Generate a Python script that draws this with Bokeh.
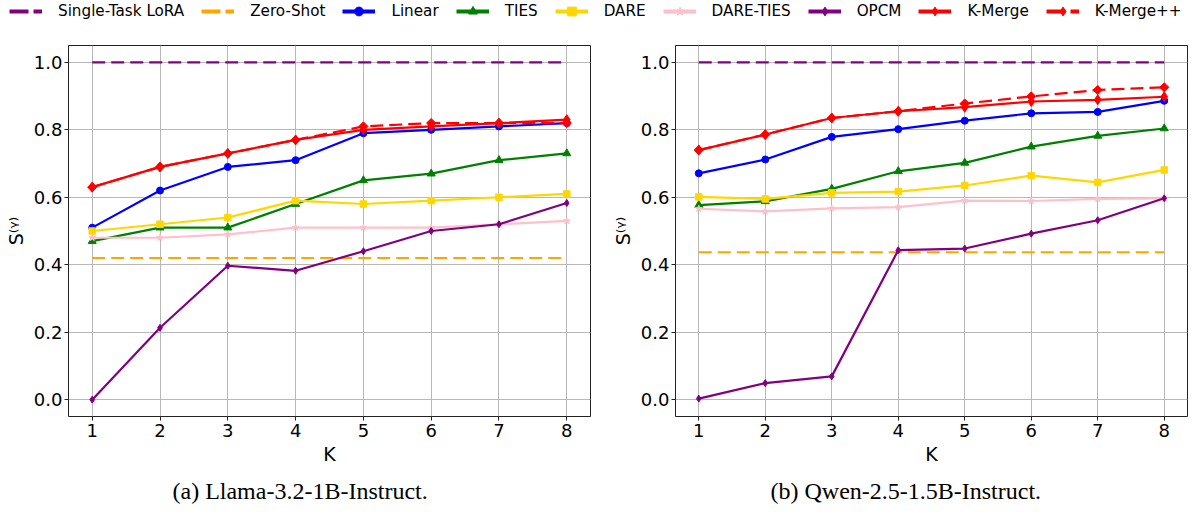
import math
from bokeh.plotting import figure
from bokeh.models import Range1d, FixedTicker, PrintfTickFormatter, Legend, LegendItem, Title
from bokeh.layouts import column, row
from bokeh.embed import file_html
from bokeh.resources import INLINE

# ---------------- data ----------------
K = [1, 2, 3, 4, 5, 6, 7, 8]
x_ticks = [1, 2, 3, 4, 5, 6, 7, 8]
y_ticks = [0.0, 0.2, 0.4, 0.6, 0.8, 1.0]

series_names = ["Single-Task LoRA", "Zero-Shot", "Linear", "TIES", "DARE",
                "DARE-TIES", "OPCM", "K-Merge", "K-Merge++"]

# (a) Llama-3.2-1B-Instruct
llama_single = [1.00, 1.00, 1.00, 1.00, 1.00, 1.00, 1.00, 1.00]
llama_zero = [0.42, 0.42, 0.42, 0.42, 0.42, 0.42, 0.42, 0.42]
llama_linear = [0.51, 0.62, 0.69, 0.71, 0.79, 0.80, 0.81, 0.82]
llama_ties = [0.47, 0.51, 0.51, 0.58, 0.65, 0.67, 0.71, 0.73]
llama_dare = [0.50, 0.52, 0.54, 0.59, 0.58, 0.59, 0.60, 0.61]
llama_dare_ties = [0.48, 0.48, 0.49, 0.51, 0.51, 0.51, 0.52, 0.53]
llama_opcm = [0.00, 0.213, 0.397, 0.382, 0.44, 0.50, 0.52, 0.583]
llama_kmerge = [0.63, 0.69, 0.73, 0.77, 0.80, 0.81, 0.82, 0.83]
llama_kmergepp = [0.63, 0.69, 0.73, 0.77, 0.81, 0.82, 0.82, 0.82]

# (b) Qwen-2.5-1.5B-Instruct
qwen_single = [1.00, 1.00, 1.00, 1.00, 1.00, 1.00, 1.00, 1.00]
qwen_zero = [0.437, 0.437, 0.437, 0.437, 0.437, 0.437, 0.437, 0.437]
qwen_linear = [0.671, 0.712, 0.779, 0.802, 0.827, 0.849, 0.853, 0.886]
qwen_ties = [0.577, 0.588, 0.625, 0.677, 0.702, 0.750, 0.782, 0.804]
qwen_dare = [0.601, 0.595, 0.613, 0.617, 0.635, 0.664, 0.644, 0.681]
qwen_dare_ties = [0.566, 0.558, 0.567, 0.571, 0.590, 0.589, 0.595, 0.597]
qwen_opcm = [0.003, 0.049, 0.069, 0.443, 0.448, 0.492, 0.532, 0.597]
qwen_kmerge = [0.740, 0.786, 0.835, 0.855, 0.867, 0.884, 0.889, 0.898]
qwen_kmergepp = [0.740, 0.786, 0.835, 0.855, 0.878, 0.899, 0.918, 0.926]

captions = ["(a) Llama-3.2-1B-Instruct.", "(b) Qwen-2.5-1.5B-Instruct."]

# ---------------- styles ----------------
STYLE = {
    "Single-Task LoRA": dict(color="#800080", dash="13 6", marker=None, size=0, angle=0, leg_marker=None),
    "Zero-Shot": dict(color="#FFA500", dash="13 6", marker=None, size=0, angle=0, leg_marker=None),
    "Linear": dict(color="#0000FF", dash="solid", marker="circle", size=7, angle=0, leg_marker="circle"),
    "TIES": dict(color="#008000", dash="solid", marker="triangle", size=8, angle=0, leg_marker="triangle"),
    "DARE": dict(color="#FFD700", dash="solid", marker="square", size=6.5, angle=0, leg_marker="square"),
    "DARE-TIES": dict(color="#FFC0CB", dash="solid", marker="star", size=7, angle=0, leg_marker="star"),
    "OPCM": dict(color="#800080", dash="solid", marker="diamond", size=7, angle=0, leg_marker="diamond"),
    "K-Merge": dict(color="#FF0000", dash="solid", marker="diamond", size=10, angle=0, leg_marker="diamond"),
    "K-Merge++": dict(color="#FF0000", dash="13 6", marker="square", size=6.5, angle=math.pi / 4, leg_marker="diamond"),
}

FONT = "DejaVu Sans"
LEG_H = 22
PLOT_H = 493


def make_plot(width, bl, br, values, caption, cap_offset):
    p = figure(width=width, height=PLOT_H,
               x_range=Range1d(0.65, 8.35), y_range=Range1d(-0.05, 1.05),
               output_backend="svg", toolbar_location=None,
               min_border_left=bl, min_border_right=br,
               min_border_top=23, min_border_bottom=99)
    p.outline_line_color = "#222222"
    p.outline_line_width = 1
    p.background_fill_color = "white"
    p.border_fill_color = "white"

    p.xaxis.ticker = FixedTicker(ticks=x_ticks)
    p.yaxis.ticker = FixedTicker(ticks=y_ticks)
    p.yaxis.formatter = PrintfTickFormatter(format="%.1f")
    for ax in (p.xaxis, p.yaxis):
        ax.axis_line_color = None
        ax.major_tick_line_color = "#222222"
        ax.major_tick_in = 0
        ax.major_tick_out = 4
        ax.minor_tick_line_color = None
        ax.major_label_text_font = FONT
        ax.major_label_text_font_size = "18px"
        ax.major_label_text_color = "#000000"
        ax.axis_label_text_font = FONT
        ax.axis_label_text_font_size = "19px"
        ax.axis_label_text_font_style = "normal"
        ax.axis_label_text_color = "#000000"
    p.xaxis.axis_label = "K"
    p.yaxis.axis_label = "S⁽ᵞ⁾"
    p.xaxis.major_label_standoff = 3
    p.xaxis.axis_label_standoff = 3
    p.yaxis.major_label_standoff = 2
    p.yaxis.axis_label_standoff = 4

    p.xgrid.grid_line_color = "#b8b8b8"
    p.ygrid.grid_line_color = "#b8b8b8"
    p.xgrid.grid_line_width = 1
    p.ygrid.grid_line_width = 1

    for name, ys in zip(series_names, values):
        st = STYLE[name]
        p.line(K, ys, line_color=st["color"], line_width=2.2, line_dash=st["dash"])
        if st["marker"]:
            p.scatter(K, ys, marker=st["marker"], size=st["size"], angle=st["angle"],
                      fill_color=st["color"], line_color=st["color"], line_width=1)

    t = Title(text=caption, align="left", offset=cap_offset, standoff=17,
              text_font="Liberation Serif", text_font_size="24px",
              text_font_style="normal", text_color="#000000")
    p.add_layout(t, "below")
    return p


p1 = make_plot(607, 68, 17,
               [llama_single, llama_zero, llama_linear, llama_ties, llama_dare,
                llama_dare_ties, llama_opcm, llama_kmerge, llama_kmergepp],
               captions[0], 104)
p2 = make_plot(596, 68, 16,
               [qwen_single, qwen_zero, qwen_linear, qwen_ties, qwen_dare,
                qwen_dare_ties, qwen_opcm, qwen_kmerge, qwen_kmergepp],
               captions[1], 95)

# ---------------- legend strip ----------------
leg = figure(width=1203, height=LEG_H, x_range=Range1d(0, 1), y_range=Range1d(0, 1),
             output_backend="svg", toolbar_location=None,
             x_axis_type=None, y_axis_type=None, min_border=0)
leg.outline_line_color = None
leg.xgrid.visible = False
leg.ygrid.visible = False
nan = float("nan")
items = []
for name in series_names:
    st = STYLE[name]
    dash = "19 5" if st["dash"] != "solid" else "solid"
    rs = [leg.line([nan], [nan], line_color=st["color"], line_width=4, line_dash=dash)]
    if st["leg_marker"]:
        rs.append(leg.scatter([nan], [nan], marker=st["leg_marker"], size=10,
                              fill_color=st["color"], line_color=st["color"]))
    items.append(LegendItem(label=name, renderers=rs))
legend = Legend(items=items, orientation="horizontal", location=(9, 0),
                glyph_width=33, glyph_height=LEG_H, label_height=LEG_H,
                label_standoff=16, spacing=17, padding=0, margin=0,
                border_line_color=None, background_fill_alpha=0,
                label_text_font=FONT, label_text_font_size="15.2px",
                label_text_color="#000000")
leg.add_layout(legend, "center")

layout = column(leg, row(p1, p2))
open("out.html", "w").write(file_html(layout, INLINE))
